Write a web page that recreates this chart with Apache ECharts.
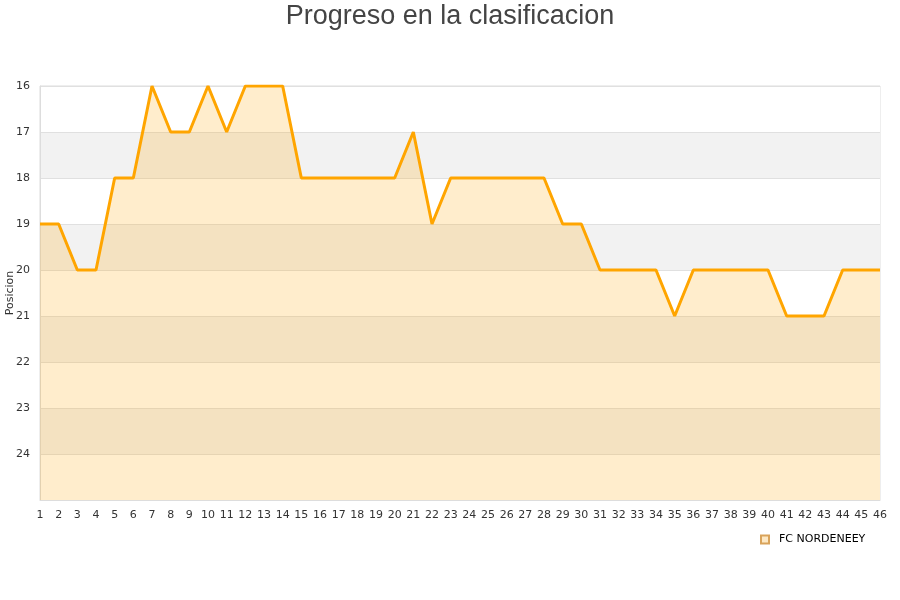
<!DOCTYPE html>
<html><head><meta charset="utf-8">
<script src="https://cdn.jsdelivr.net/npm/echarts@6/dist/echarts.min.js"></script>
<style>html,body{margin:0;padding:0;background:#fff}#c{width:900px;height:600px}</style>
</head><body><div id="c"></div>
<script>
var titleText = "Progreso en la clasificacion";
var seriesName = "FC NORDENEEY";
var jornadas = [];
for (var i = 1; i <= 46; i++) jornadas.push(String(i));
var posiciones = [19,19,20,20,18,18,16,17,17,16,17,16,16,16,18,18,18,18,18,18,17,19,18,18,18,18,18,18,19,19,20,20,20,20,21,20,20,20,20,20,21,21,21,20,20,20];
var yMin = 16, yMax = 25;

var chart = echarts.init(document.getElementById('c'));
chart.setOption({
  animation: false,
  title: { text: titleText, left: 'center', top: -2,
    textStyle: { fontSize: 27, fontWeight: 'normal', color: '#444', fontFamily: 'Liberation Sans' } },
  legend: { data: [{ name: seriesName, icon: 'rect' }], left: 755, top: 529, itemWidth: 8, itemHeight: 8,
    textStyle: { fontSize: 11, color: '#000', fontFamily: 'DejaVu Sans', padding: [0, 0, 0, 5] } },
  grid: { left: 40, right: 20, top: 86, bottom: 100, show: true, borderColor: '#ddd', borderWidth: 1,
    containLabel: false, outerBoundsMode: 'none' },
  xAxis: { type: 'category', data: jornadas, boundaryGap: false,
    axisLine: { lineStyle: { color: '#ddd' } }, axisTick: { show: false },
    axisLabel: { color: '#333', fontSize: 11, interval: 0, margin: 10, fontFamily: 'DejaVu Sans' },
    splitLine: { show: false } },
  yAxis: { type: 'value', inverse: true, min: yMin, max: yMax, interval: 1,
    name: 'Posicion', nameLocation: 'middle', nameGap: 30, nameRotate: 90, nameMoveOverlap: false,
    nameTextStyle: { fontSize: 11, color: '#333', fontFamily: 'DejaVu Sans', verticalAlign: 'middle', align: 'center' },
    axisLine: { show: true, lineStyle: { color: '#ddd' } }, axisTick: { show: false },
    axisLabel: { color: '#333', fontSize: 11, margin: 10, fontFamily: 'DejaVu Sans',
      formatter: function (v) { return v >= yMax ? '' : v; } },
    splitLine: { show: true, lineStyle: { color: '#e0e0e0' } },
    splitArea: { show: true, areaStyle: { color: ['#ffffff', '#f2f2f2'] } } },
  series: [{
    name: seriesName, type: 'line', data: posiciones, showSymbol: false, symbol: 'none',
    lineStyle: { color: '#ffa500', width: 3 },
    itemStyle: { color: '#fde8c4', borderColor: '#d9a35b', borderWidth: 1 },
    areaStyle: { color: 'rgba(255,165,0,0.2)', opacity: 1, origin: 'end' }
  }]
});
</script></body></html>
